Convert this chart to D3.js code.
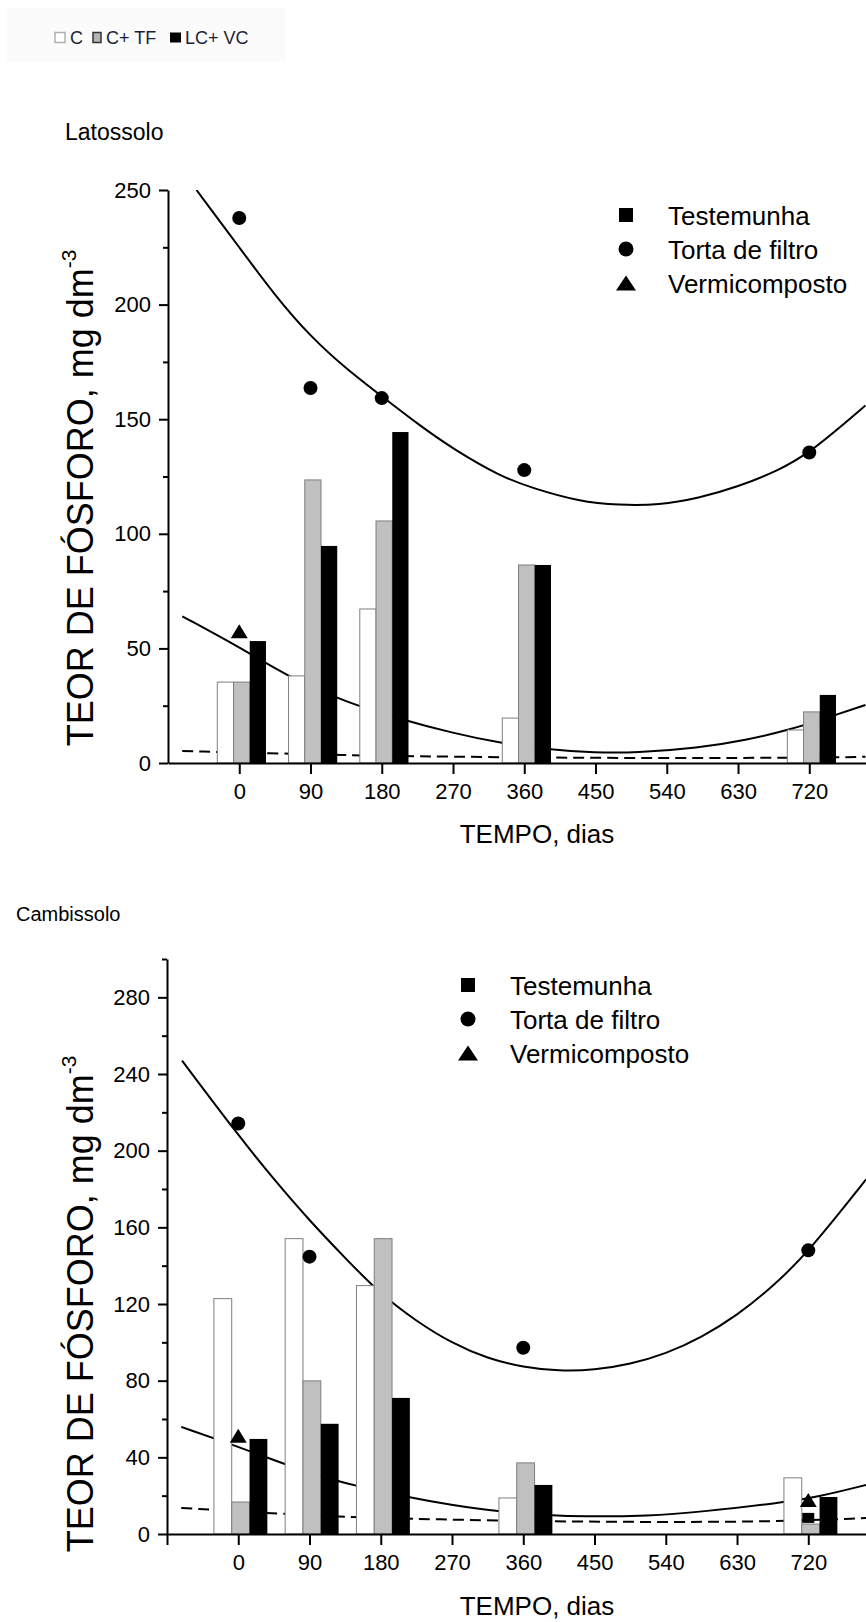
<!DOCTYPE html>
<html>
<head>
<meta charset="utf-8">
<script src="https://cdn.jsdelivr.net/npm/d3@7"></script>
<style>
body { margin: 0; background: #fff; }
svg { display: block; font-family: "Liberation Sans", Arial, sans-serif; }
.axis path, .axis line { stroke: #000; stroke-width: 2px; }
.axis text { font-size: 22px; fill: #000; font-family: "Liberation Sans", Arial, sans-serif; }
.minor path { stroke: none; }
.fit { fill: none; stroke: #000; stroke-width: 2px; }
.dash { stroke-dasharray: 11,6; }
</style>
</head>
<body>
<svg id="chart" width="866" height="1622"></svg>
<script>
// time points (days) and axis ticks
var dias = [0, 90, 180, 360, 720];
var xTicks = [0, 90, 180, 270, 360, 450, 540, 630, 720];
var barGroups = ["C", "C+ TF", "LC+ VC"];
var seriesNames = ["Testemunha", "Torta de filtro", "Vermicomposto"];

// Latossolo
var latYTicks = [0, 50, 100, 150, 200, 250];
var latYMinor = [25, 75, 125, 175, 225];
var latC    = [35.3, 38.0, 67.2, 19.6, 14.4];
var latCTF  = [35.3, 123.5, 105.6, 86.4, 22.3];
var latLCVC = [53.2, 94.7, 144.4, 86.4, 29.7];
var latTorta = [[0, 237.8], [90, 163.6], [180, 159.2], [360, 127.8], [720, 135.5]];
var latVermi = [[0, 57.5]];
var latTest = [];
var latTortaFit = [[-54, 250], [0, 225], [45, 204], [90, 186], [135, 172], [180, 160], [225, 148], [270, 137],
  [330, 125], [370, 120], [430, 114], [480, 112.5], [530, 112.5], [580, 115.5], [630, 120.5], [680, 127.5],
  [720, 135], [791, 156]];
var latVermiFit = [[-72, 64], [0, 50.6], [60, 38], [120, 28.8], [150, 25], [200, 19.5], [270, 13],
  [330, 8.7], [390, 5.8], [450, 4.5], [500, 4.4], [580, 6.5], [640, 10], [695, 14.4], [750, 20.6], [791, 25.3]];
var latTestFit = [[-72, 5.2], [90, 3.8], [180, 3.1], [360, 2.4], [540, 2.1], [720, 2.3], [791, 2.7]];

// Cambissolo
var camYTicks = [0, 40, 80, 120, 160, 200, 240, 280];
var camYMinor = [20, 60, 100, 140, 180, 220, 260, 300];
var camC    = [122.8, 154.1, 129.6, 18.8, 29.3];
var camCTF  = [16.7, 79.9, 154.1, 37.1, 5.2];
var camLCVC = [49.6, 57.5, 71.0, 25.6, 19.3];
var camTorta = [[0, 214.2], [90, 144.7], [360, 97.2], [720, 148]];
var camVermi = [[0, 51.2], [720, 17.8]];
var camTest = [[720, 8.4]];
var camTortaFit = [[-71, 247], [0, 208], [45, 185], [90, 163.5], [135, 144], [180, 125], [225, 111],
  [270, 99.5], [315, 91.5], [360, 87], [405, 85], [450, 85.5], [495, 88.5], [540, 94], [585, 102.5],
  [630, 114], [675, 129], [720, 147], [793, 185]];
var camVermiFit = [[-72, 55.9], [0, 45.5], [44, 38.7], [78, 33.6], [120, 28.2], [150, 25], [213, 19.3],
  [268, 15.2], [331, 11.5], [394, 9.8], [432, 9.1], [520, 9.4], [583, 11.5], [684, 16.2], [734, 19.5], [793, 25.6]];
var camTestFit = [[-72, 13.6], [60, 10.4], [130, 8.9], [250, 7.6], [400, 6.5], [550, 6.2], [680, 6.5], [793, 8.3]];

var svg = d3.select("#chart");
var fills = ["#fff", "#c0c0c0", "#000"];
var strokes = ["#7f7f7f", "#7f7f7f", "none"];

function tri(w, h) {
  return "M0," + (-h / 2) + "L" + (w / 2) + "," + (h / 2) + "L" + (-w / 2) + "," + (h / 2) + "Z";
}

// little legend box at the top
var keyBox = svg.append("g");
keyBox.append("rect").attr("x", 7).attr("y", 8).attr("width", 278).attr("height", 54).attr("fill", "#fbfbfb");
var lx = [55, 93, 170], lw = [10, 8, 11], tx = [70, 106, 185];
barGroups.forEach(function(name, i) {
  keyBox.append("rect")
    .attr("x", lx[i]).attr("y", 32.5).attr("width", lw[i]).attr("height", 10)
    .attr("fill", i == 0 ? "#fff" : (i == 1 ? "#b4b4b4" : "#000"))
    .attr("stroke", i == 0 ? "#b0b0b0" : (i == 1 ? "#333" : "none"))
    .attr("stroke-width", 1.5);
  keyBox.append("text").attr("x", tx[i]).attr("y", 43.5)
    .attr("font-size", 18).attr("fill", "#1e1e38").text(name);
});

function panel(cfg) {
  var x = d3.scaleLinear().domain([-90, 810]).range([cfg.left, cfg.left + 900 * 0.7917]);
  var y = d3.scaleLinear().domain([0, cfg.yMax]).range([cfg.bottom, cfg.top]);
  var g = svg.append("g");

  g.append("clipPath").attr("id", cfg.id + "clip")
    .append("rect").attr("x", cfg.left).attr("y", cfg.top)
    .attr("width", 866 - cfg.left).attr("height", cfg.bottom - cfg.top);

  var line = d3.line()
    .x(function(d) { return x(d[0]); })
    .y(function(d) { return y(d[1]); })
    .curve(d3.curveBasis);

  var fits = g.append("g").attr("clip-path", "url(#" + cfg.id + "clip)");
  fits.append("path").datum(cfg.testFit).attr("class", "fit dash").attr("d", line);
  fits.append("path").datum(cfg.vermiFit).attr("class", "fit").attr("d", line);
  fits.append("path").datum(cfg.tortaFit).attr("class", "fit").attr("d", line);

  // bars: C, C+TF, LC+VC around each time point
  var bw = cfg.barW, shift = 3;
  [cfg.c, cfg.ctf, cfg.lcvc].forEach(function(vals, k) {
    g.selectAll(".bar" + k)
      .data(vals)
      .enter().append("rect")
      .attr("x", function(d, i) { return x(dias[i] + shift + (k - 1) * bw - bw / 2); })
      .attr("width", x(bw) - x(0))
      .attr("y", function(d) { return y(d); })
      .attr("height", function(d) { return y(0) - y(d); })
      .attr("fill", fills[k])
      .attr("stroke", strokes[k])
      .attr("stroke-width", 1);
  });

  // axes
  g.append("g").attr("class", "axis")
    .attr("transform", "translate(0," + cfg.bottom + ")")
    .call(d3.axisBottom(x).tickValues(cfg.xTickVals).tickSize(11).tickPadding(9).tickSizeOuter(0)
      .tickFormat(function(d) { return d < 0 ? "" : d; }));

  g.append("g").attr("class", "axis minor")
    .attr("transform", "translate(" + cfg.left + ",0)")
    .call(d3.axisLeft(y).tickValues(cfg.yMinor).tickSize(5).tickFormat(""));

  g.append("g").attr("class", "axis")
    .attr("transform", "translate(" + cfg.left + ",0)")
    .call(d3.axisLeft(y).tickValues(cfg.yTicks).tickSize(9).tickPadding(8).tickSizeOuter(0));

  // data points
  g.selectAll(".torta").data(cfg.torta).enter().append("circle")
    .attr("cx", function(d) { return x(d[0]); })
    .attr("cy", function(d) { return y(d[1]); })
    .attr("r", 7).attr("fill", "#000");
  g.selectAll(".vermi").data(cfg.vermi).enter().append("path")
    .attr("transform", function(d) { return "translate(" + x(d[0]) + "," + y(d[1]) + ")"; })
    .attr("d", tri(17, 14)).attr("fill", "#000");
  g.selectAll(".test").data(cfg.test).enter().append("rect")
    .attr("x", function(d) { return x(d[0]) - 6; })
    .attr("y", function(d) { return y(d[1]) - 5; })
    .attr("width", 12).attr("height", 10).attr("fill", "#000");

  // legend
  var leg = g.append("g").attr("transform", "translate(" + cfg.legX + "," + cfg.legY + ")");
  seriesNames.forEach(function(name, i) {
    var row = leg.append("g").attr("transform", "translate(0," + (i * 34) + ")");
    if (i == 0) row.append("rect").attr("x", -7).attr("y", -7).attr("width", 14).attr("height", 14);
    if (i == 1) row.append("circle").attr("r", 7.5);
    if (i == 2) row.append("path").attr("d", tri(20, 15));
    row.append("text").attr("x", 42).attr("y", 9.5).attr("font-size", 26).text(name);
  });

  // titles
  svg.append("text").attr("x", cfg.nameX).attr("y", cfg.nameY).attr("font-size", cfg.nameSize).text(cfg.name);

  svg.append("text")
    .attr("x", 537).attr("y", cfg.bottom + cfg.xTitleGap)
    .attr("text-anchor", "middle").attr("font-size", 26)
    .text("TEMPO, dias");

  var yt = svg.append("text")
    .attr("transform", "translate(93," + cfg.yTitleY + ") rotate(-90)")
    .attr("text-anchor", "middle").attr("font-size", 36);
  yt.append("tspan").text("TEOR DE FÓSFORO, mg dm");
  yt.append("tspan").attr("font-size", 21).attr("dy", -17).text("-3");
}

panel({
  id: "lat", name: "Latossolo", nameX: 65, nameY: 140, nameSize: 23,
  left: 168, top: 190, bottom: 763, yMax: 250,
  yTicks: latYTicks, yMinor: latYMinor, xTickVals: xTicks, barW: 20.5,
  c: latC, ctf: latCTF, lcvc: latLCVC,
  torta: latTorta, vermi: latVermi, test: latTest,
  tortaFit: latTortaFit, vermiFit: latVermiFit, testFit: latTestFit,
  legX: 626, legY: 215, yTitleY: 498, xTitleGap: 80
});

panel({
  id: "cam", name: "Cambissolo", nameX: 16, nameY: 921, nameSize: 20,
  left: 167, top: 959, bottom: 1534, yMax: 300,
  yTicks: camYTicks, yMinor: camYMinor, xTickVals: [-90].concat(xTicks), barW: 22.5,
  c: camC, ctf: camCTF, lcvc: camLCVC,
  torta: camTorta, vermi: camVermi, test: camTest,
  tortaFit: camTortaFit, vermiFit: camVermiFit, testFit: camTestFit,
  legX: 468, legY: 985, yTitleY: 1304, xTitleGap: 81
});
</script>
</body>
</html>
